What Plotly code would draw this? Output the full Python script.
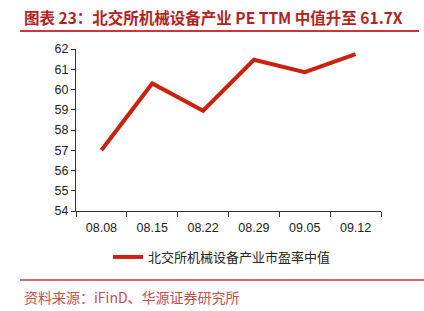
import plotly.graph_objects as go

dates = ["08.08", "08.15", "08.22", "08.29", "09.05", "09.12"]
pe_median = [57.0, 60.3, 58.95, 61.47, 60.86, 61.75]
series_name = "北交所机械设备产业市盈率中值"
title_text = "图表 23：北交所机械设备产业 PE TTM 中值升至 61.7X"
source_text = "资料来源：iFinD、华源证券研究所"

W, H = 424, 311
L, R, T, B = 76, 381, 49, 211

def px(x):
    return (x - L) / (R - L)

def py(y):
    return (B - y) / (B - T)

red_line = "#C9230F"
dark_red = "#B22222"
sep_red = "#D0343A"

fig = go.Figure()
fig.add_trace(go.Scatter(
    x=dates, y=pe_median, mode="lines", name=series_name,
    line=dict(color=red_line, width=4),
))

fig.update_layout(
    width=W, height=H,
    margin=dict(l=L, r=W - R, t=T, b=H - B),
    paper_bgcolor="white", plot_bgcolor="white",
    font=dict(family="Liberation Sans, Arial", size=12, color="#222"),
    showlegend=True,
    legend=dict(
        orientation="h", x=px(108), xanchor="left", y=py(257), yanchor="middle",
        font=dict(family="Noto Sans CJK SC", size=13, color="#222"),
        bgcolor="rgba(0,0,0,0)",
    ),
    xaxis=dict(
        type="category", range=[-0.5, 5.5], tickson="boundaries",
        showline=True, linecolor="#333", linewidth=1,
        ticks="outside", ticklen=5, tickcolor="#333",
        showgrid=False, zeroline=False, ticklabelstandoff=5,
        tickfont=dict(size=12.5, color="#222"),
    ),
    yaxis=dict(
        range=[54, 62], dtick=1, tick0=54,
        showline=True, linecolor="#333", linewidth=1,
        ticks="outside", ticklen=4, tickcolor="#333",
        showgrid=False, zeroline=False,
        tickfont=dict(size=12.5, color="#222"),
    ),
)

fig.add_annotation(
    x=px(22), y=py(17), xref="paper", yref="paper", xanchor="left", yanchor="middle",
    text="<b>" + title_text + "</b>", showarrow=False,
    font=dict(family="Noto Sans CJK SC", size=15.5, color=dark_red),
)
fig.add_annotation(
    x=px(22), y=py(297), xref="paper", yref="paper", xanchor="left", yanchor="middle",
    text=source_text, showarrow=False,
    font=dict(family="Noto Sans CJK SC", size=14, color="#C0504D"),
)
fig.add_shape(type="line", xref="paper", yref="paper",
              x0=px(20), x1=px(419), y0=py(31), y1=py(31),
              line=dict(color=sep_red, width=2))
fig.add_shape(type="line", xref="paper", yref="paper",
              x0=px(20), x1=px(424), y0=py(280), y1=py(280),
              line=dict(color=sep_red, width=1.5))

fig.write_html("out.html")
